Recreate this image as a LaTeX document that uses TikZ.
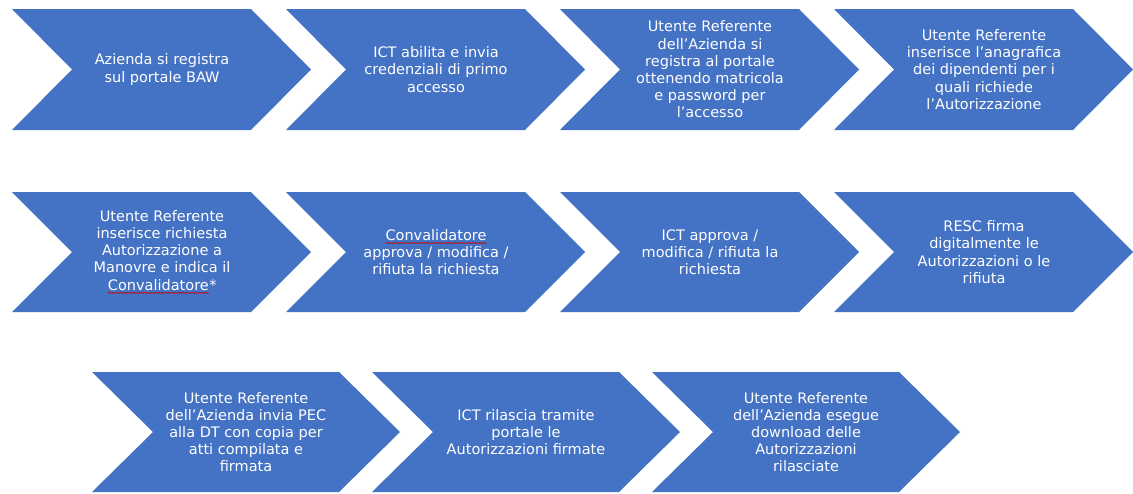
\documentclass[tikz,border=0pt]{standalone}
\usepackage{fontspec}
\setmainfont{DejaVu Sans}
\usetikzlibrary{decorations.pathmorphing}
\definecolor{chevblue}{HTML}{4472C4}
\tikzset{
  chev/.style={fill=chevblue},
  chevtext/.style={text=white, align=center, inner sep=0pt, font=\fontsize{14.5}{17.2}\selectfont},
  squiggle/.style={draw=red!80!black, line width=0.5pt, decorate, decoration={snake, amplitude=0.6pt, segment length=2.4pt}}
}
% word marked by the spell checker
\newcommand{\spellword}[1]{\tikz[baseline=(sw.base)]{\node[inner sep=0pt, text=white] (sw) {#1}; \draw[squiggle] ([yshift=-2.8pt]sw.base west) -- ([yshift=-2.8pt]sw.base east);}}

\begin{document}
\begin{tikzpicture}[x=1pt, y=-1pt]
    \useasboundingbox (0,0) rectangle (1133,493);
    % first row
    \foreach \i/\txt in {0/{Azienda si registra\\sul portale BAW},
                         1/{ICT abilita e invia\\credenziali di primo\\accesso},
                         2/{Utente Referente\\dell’Azienda si\\registra al portale\\ottenendo matricola\\e password per\\l’accesso},
                         3/{Utente Referente\\inserisce l’anagrafica\\dei dipendenti per i\\quali richiede\\l’Autorizzazione}} {
        \pgfmathsetmacro{\xa}{12+274*\i}
        \fill[chev] (\xa,9) -- (\xa+239,9) -- (\xa+299,69.5) -- (\xa+239,130) -- (\xa,130) -- (\xa+60,69.5) -- cycle;
        \node[chevtext] (ra\i) at (\xa+150,69.5) {\txt};
    }
    % second row
    \foreach \i/\txt in {0/{Utente Referente\\inserisce richiesta\\Autorizzazione a\\Manovre e indica il\\\spellword{Convalidatore}*},
                         1/{\spellword{Convalidatore}\\approva / modifica /\\rifiuta la richiesta},
                         2/{ICT approva /\\modifica / rifiuta la\\richiesta},
                         3/{RESC firma\\digitalmente le\\Autorizzazioni o le\\rifiuta}} {
        \pgfmathsetmacro{\xa}{12+274*\i}
        \fill[chev] (\xa,192) -- (\xa+239,192) -- (\xa+299,252) -- (\xa+239,312) -- (\xa,312) -- (\xa+60,252) -- cycle;
        \node[chevtext] (rb\i) at (\xa+150,252) {\txt};
    }
    % third row
    \foreach \i/\txt in {0/{Utente Referente\\dell’Azienda invia PEC\\alla DT con copia per\\atti compilata e\\firmata},
                         1/{ICT rilascia tramite\\portale le\\Autorizzazioni firmate},
                         2/{Utente Referente\\dell’Azienda esegue\\download delle\\Autorizzazioni\\rilasciate}} {
        \pgfmathsetmacro{\xa}{92+280*\i}
        \fill[chev] (\xa,372) -- (\xa+247,372) -- (\xa+308,432) -- (\xa+247,492) -- (\xa,492) -- (\xa+61,432) -- cycle;
        \node[chevtext] (rc\i) at (\xa+154,432) {\txt};
    }
\end{tikzpicture}
\end{document}
